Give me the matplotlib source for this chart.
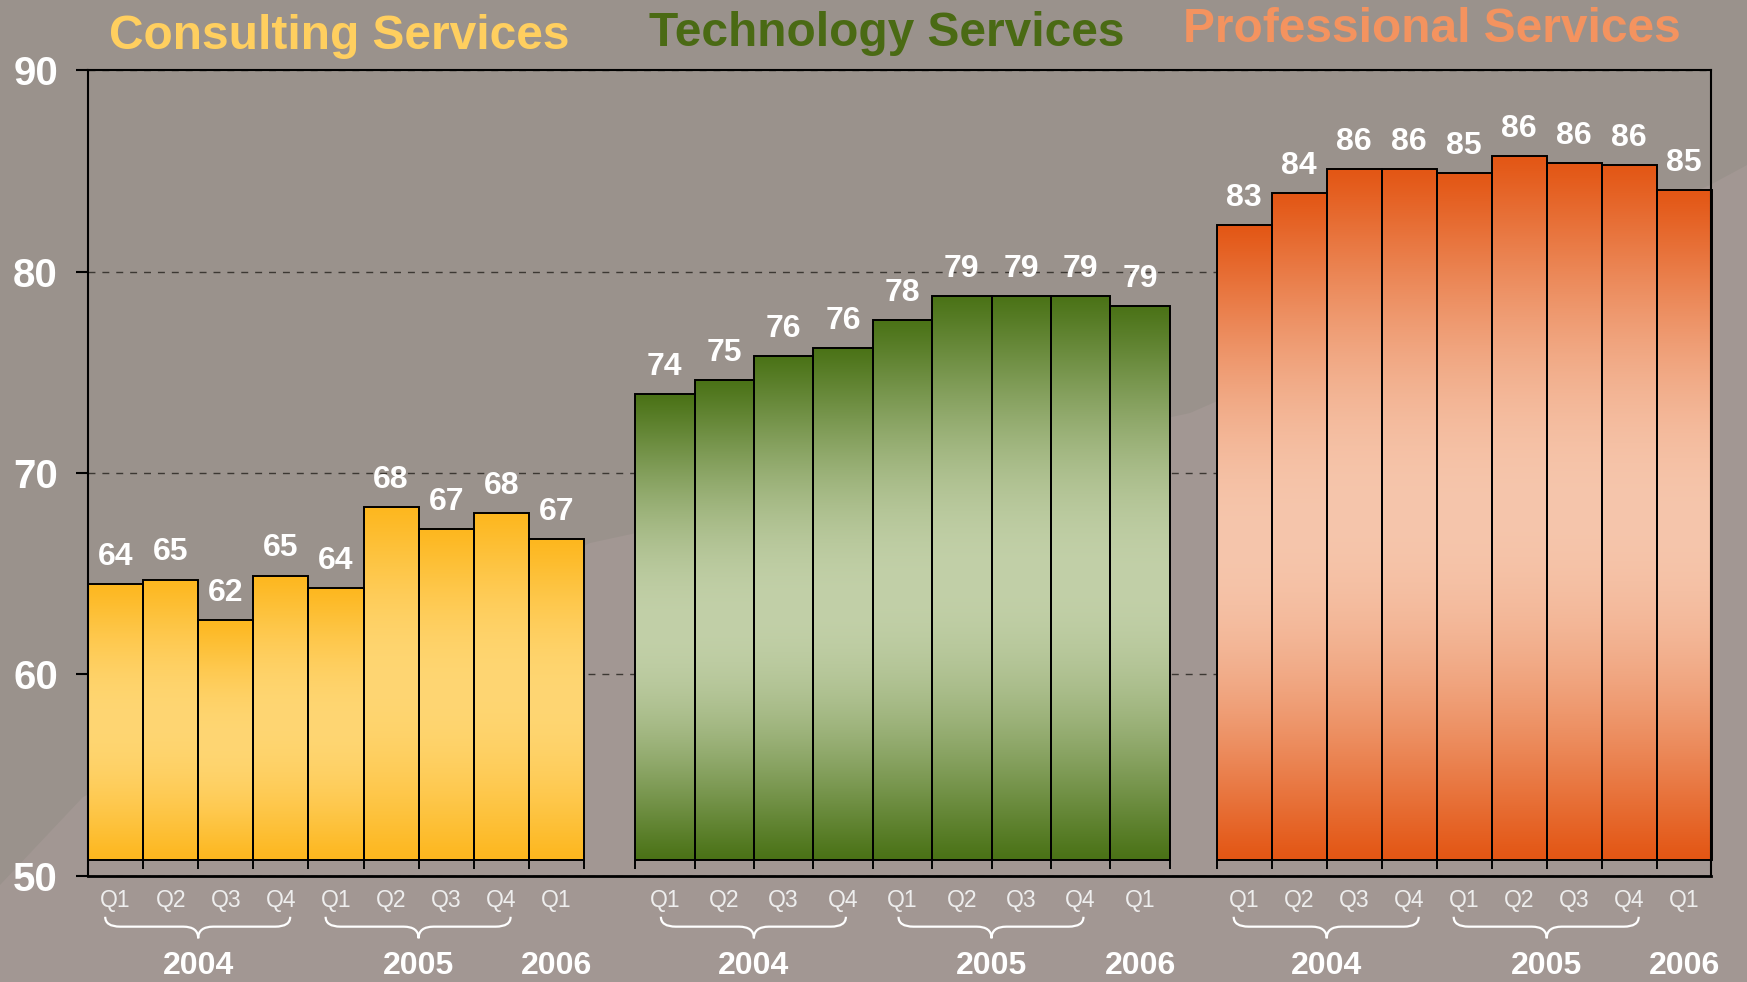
import numpy as np
import matplotlib
matplotlib.use('Agg')
import matplotlib.pyplot as plt
from matplotlib import font_manager
from matplotlib.patches import Polygon, PathPatch
from matplotlib.path import Path

# ---------------- data ----------------
groups = ['Consulting Services', 'Technology Services', 'Professional Services']
quarters = ['Q1', 'Q2', 'Q3', 'Q4', 'Q1', 'Q2', 'Q3', 'Q4', 'Q1']
years = ['2004', '2005', '2006']
year_first_bar = [0, 4, 8]
consulting_values = [64.5, 64.7, 62.7, 64.9, 64.3, 68.3, 67.2, 68.0, 66.7]
consulting_labels = [64, 65, 62, 65, 64, 68, 67, 68, 67]
technology_values = [73.9, 74.6, 75.8, 76.2, 77.6, 78.8, 78.8, 78.8, 78.3]
technology_labels = [74, 75, 76, 76, 78, 79, 79, 79, 79]
professional_values = [82.3, 83.9, 85.1, 85.1, 84.9, 85.75, 85.4, 85.3, 84.05]
professional_labels = [83, 84, 86, 86, 85, 86, 86, 86, 85]
y_ticks = [50, 60, 70, 80, 90]
bar_base = 50.76

# ---------------- style / layout ----------------
names = {f.name for f in font_manager.fontManager.ttflist}
NARROW = 'Liberation Sans Narrow' if 'Liberation Sans Narrow' in names else 'Liberation Sans'
BOLD = 'Liberation Sans'

W, H = 1747, 982
AX_L, AX_R, AX_T, AX_B = 88.0, 1711.3, 70.2, 875.7
group_left = [88.0, 635.1, 1216.7]
bar_w = [55.1, 59.4, 55.0]
title_x = [339, 887, 1432]
title_y = [91.05, 91.22, 91.39]
title_colors = ['#FFCF5F', '#4A6A14', '#F4935F']
dark_cols = [(253, 183, 30), (74, 114, 22), (227, 86, 20)]
light_cols = [(255, 214, 115), (194, 208, 168), (246, 198, 172)]
BG_DARK = '#9A928C'
BG_LIGHT = '#A29793'

fig = plt.figure(figsize=(W / 100, H / 100), dpi=100, facecolor=BG_DARK)
# subtle lighter diagonal region
poly_px = [(0, 885), (83, 797), (590, 543), (1190, 413), (1710, 185), (1747, 165), (1747, 982), (0, 982)]
fig.add_artist(Polygon([(x / W, 1 - y / H) for x, y in poly_px], closed=True,
                       transform=fig.transFigure, facecolor=BG_LIGHT, edgecolor='none', zorder=0))

ax = fig.add_axes([AX_L / W, 1 - AX_B / H, (AX_R - AX_L) / W, (AX_B - AX_T) / H])
ax.set_facecolor('none')

all_values = [consulting_values, technology_values, professional_values]
all_labels = [consulting_labels, technology_labels, professional_labels]

# smooth gradient profile (bottom -> top): dark at both ends, light in the middle
t = np.linspace(0, 1, 1024)
wgt = np.sin(np.pi * t) ** 1.1

for g in range(3):
    vals = all_values[g]
    w = bar_w[g]
    xs = [group_left[g] + i * w for i in range(len(vals))]
    d = np.array(dark_cols[g]) / 255
    l = np.array(light_cols[g]) / 255
    grad = (d[None, :] * (1 - wgt[:, None]) + l[None, :] * wgt[:, None])[:, None, :]
    heights = [v - bar_base for v in vals]
    bars = ax.bar(xs, heights, width=w, bottom=bar_base, align='edge',
                  facecolor='none', edgecolor='black', linewidth=1.4, zorder=3, clip_on=False)
    for b in bars:
        x0, y0 = b.get_x(), b.get_y()
        ax.imshow(grad, extent=[x0, x0 + b.get_width(), y0, y0 + b.get_height()],
                  origin='lower', aspect='auto', interpolation='bilinear', zorder=2)
    # group baseline ticks
    edges = xs + [xs[-1] + w]
    ax.vlines(edges, 50.32, bar_base, colors='black', linewidth=1.4, zorder=3)
    # value labels
    for x, v, lab in zip(xs, vals, all_labels[g]):
        ax.text(x + w / 2, v + 1.35, str(lab), ha='center', va='center', color='white',
                fontsize=23, fontweight='bold', family=NARROW, zorder=4)
    # quarter labels
    for x, q in zip(xs, quarters):
        ax.text(x + w / 2, 48.78, q, ha='center', va='center', color='#EEEEEE',
                fontsize=16.5, family=NARROW, clip_on=False)
    # braces + year labels
    for yr, first in zip(years, year_first_bar):
        if yr != '2006':
            tip = group_left[g] + (first + 2) * w
            xl, xr = tip - 93, tip + 92
            r = 15
            ytop, ymid, ytip = 47.96, 47.47, 46.89
            verts = [(xl, ytop), (xl, ymid), (xl + r, ymid),
                     (tip - r, ymid), (tip, ymid), (tip, ytip),
                     (tip, ymid), (tip + r, ymid),
                     (xr - r, ymid), (xr, ymid), (xr, ytop)]
            codes = [Path.MOVETO, Path.CURVE3, Path.CURVE3,
                     Path.LINETO, Path.CURVE3, Path.CURVE3,
                     Path.CURVE3, Path.CURVE3,
                     Path.LINETO, Path.CURVE3, Path.CURVE3]
            ax.add_patch(PathPatch(Path(verts, codes), facecolor='none', edgecolor='white',
                                   linewidth=1.6, clip_on=False))
            xc = tip
        else:
            xc = group_left[g] + (first + 0.5) * w
        ax.text(xc, 45.52, yr, ha='center', va='center', color='white', fontsize=23,
                fontweight='bold', family=BOLD, clip_on=False)
    # title
    ax.text(title_x[g], title_y[g], groups[g], ha='center', va='baseline', color=title_colors[g],
            fontsize=34.5, fontweight='bold', family=BOLD, clip_on=False)

ax.set_xlim(AX_L, AX_R)
ax.set_ylim(50, 90)
ax.set_yticks(y_ticks)
ax.set_yticklabels([str(v) for v in y_ticks], color='white', fontsize=29,
                   fontweight='bold', family=BOLD)
ax.tick_params(axis='y', direction='out', length=8.6, width=1.5, color='black', pad=13)
ax.set_xticks([])
ax.yaxis.grid(True, linestyle=(0, (5, 5)), color='#3C3833', linewidth=1.0)
ax.set_axisbelow(True)
for s in ['left', 'top', 'right']:
    ax.spines[s].set_linewidth(1.5)
    ax.spines[s].set_color('black')
ax.spines['bottom'].set_linewidth(2.0)
ax.spines['bottom'].set_color('black')

fig.savefig('out.png', dpi=100, facecolor=fig.get_facecolor())
